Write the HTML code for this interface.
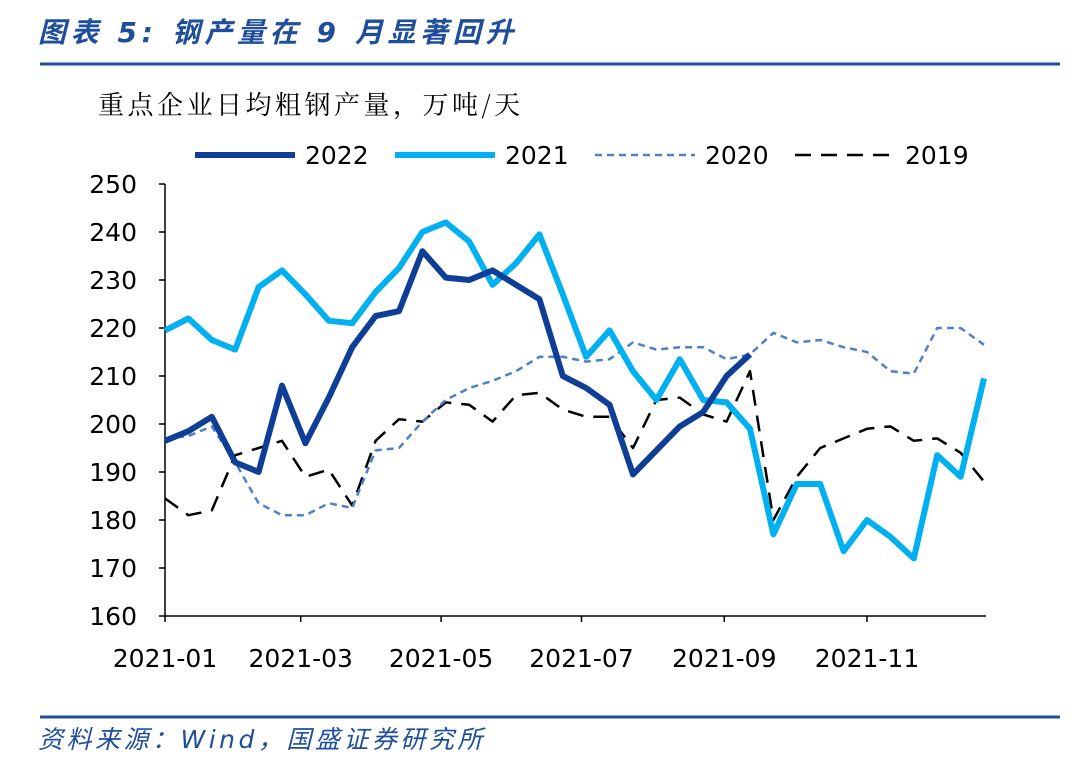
<!DOCTYPE html>
<html><head><meta charset="utf-8">
<style>
body{margin:0;width:1080px;height:769px;background:#fff;overflow:hidden;font-family:"DejaVu Sans","Noto Sans CJK SC",sans-serif;}
</style></head>
<body>
<svg width="1080" height="769" xmlns="http://www.w3.org/2000/svg">
<text x="38" y="42" font-size="28" font-weight="bold" font-style="italic" letter-spacing="4.6" fill="#1f4e9c" font-family="DejaVu Sans,Noto Sans CJK SC,sans-serif">图表 5:  钢产量在 9 月显著回升</text>
<line x1="40" y1="64" x2="1060" y2="64" stroke="#1f4e9c" stroke-width="3"/>
<text x="98" y="114" font-size="26" letter-spacing="3.5" fill="#000" font-family="Noto Serif CJK SC,serif">重点企业日均粗钢产量，万吨/天</text>
<g id="legend"></g>
<g id="axes"></g>
<g id="series"></g>
<line x1="40" y1="717" x2="1060" y2="717" stroke="#1f4e9c" stroke-width="3"/>
<text x="38" y="748" font-size="25" font-style="italic" letter-spacing="3.5" fill="#1f4e9c" font-family="DejaVu Sans,Noto Sans CJK SC,sans-serif">资料来源：Wind，国盛证券研究所</text>
</svg>
<script>
const yTicks=[160,170,180,190,200,210,220,230,240,250];
const xTickIdx=[0,5.8,11.8,17.8,23.9,30];
const xTickLabels=["2021-01","2021-03","2021-05","2021-07","2021-09","2021-11"];
const s2022=[196.5,198.5,201.5,192,190,208,196,205.5,216,222.5,223.5,236,230.5,230,232,229,226,210,207.5,204,189.5,194.5,199.5,202.5,210,214.5];
const s2021=[219.5,222,217.5,215.5,228.5,232,227,221.5,221,227.5,232.5,240,242,238,229,233.5,239.5,227,214,219.5,211,205,213.5,205,204.5,199,177,187.5,187.5,173.5,180,176.5,172,193.5,189,209.5];
const s2020=[197,197.5,199.5,192,183.5,181,181,183.5,182.5,194.5,195,200.5,205,207.5,209,211,214,214,213,213.5,217,215.5,216,216,213.5,214.5,219,217,217.5,216,215,211,210.5,220,220,216.5];
const s2019=[184.5,181,182,193.5,195,196.5,189,190.5,183,196.5,201,200.5,204.5,204,200.5,206,206.5,203,201.5,201.5,195,205,205.5,202,200.5,211,180,189,195,197,199,199.5,196.5,197,194,188];
const NS="http://www.w3.org/2000/svg";
const x0=165,x1=984,n=36,yTop=184,yBot=616,yMin=160,yMax=250;
const X=i=>x0+i*(x1-x0)/(n-1);
const Y=v=>yBot-(v-yMin)/(yMax-yMin)*(yBot-yTop);
function mk(tag,attrs,parent){const e=document.createElementNS(NS,tag);for(const k in attrs)e.setAttribute(k,attrs[k]);parent.appendChild(e);return e;}
const axes=document.getElementById('axes');
let a=mk('line',{x1:x0,y1:yTop,x2:x0,y2:yBot,stroke:'#000','stroke-width':1.5},axes);


a=mk('line',{x1:x0,y1:yBot,x2:x1+2,y2:yBot,stroke:'#000','stroke-width':1.5},axes);


yTicks.forEach(v=>{
  const t=mk('line',{x1:x0-6,y1:Y(v),x2:x0,y2:Y(v),stroke:'#000','stroke-width':1.5},axes);
  
  
  const l=mk('text',{x:x0-28,y:Y(v)+9,'font-size':25,'text-anchor':'end',fill:'#000'},axes);
  l.textContent=v;
  
  
});
xTickIdx.forEach((i,k)=>{
  const t=mk('line',{x1:X(i),y1:yBot,x2:X(i),y2:yBot+6,stroke:'#000','stroke-width':1.5},axes);
  
  
  const l=mk('text',{x:X(i),y:yBot+51,'font-size':25,'text-anchor':'middle',fill:'#000'},axes);
  l.textContent=xTickLabels[k];
  
  
});
const defs=[
 {name:'2022',data:s2022,color:'#0f3e96',w:6,dash:''},
 {name:'2021',data:s2021,color:'#00b0f0',w:6,dash:''},
 {name:'2020',data:s2020,color:'#4f81c8',w:2.5,dash:'7,5'},
 {name:'2019',data:s2019,color:'#000',w:2.5,dash:'16,10'}
];
const series=document.getElementById('series');
[3,2,1,0].forEach(k=>{const d=defs[k];
  const p=mk('polyline',{points:d.data.map((v,i)=>X(i)+','+Y(v)).join(' '),fill:'none',stroke:d.color,'stroke-width':d.w,'stroke-dasharray':d.dash,'stroke-linejoin':'round'},series);
  
  
});
const legend=document.getElementById('legend');
const lx=[195,395,595,795];
defs.forEach((d,k)=>{
  const l=mk('line',{x1:lx[k],y1:155,x2:lx[k]+100,y2:155,stroke:d.color,'stroke-width':d.w,'stroke-dasharray':d.dash},legend);
  
  
  const t=mk('text',{x:lx[k]+110,y:164,'font-size':25,fill:'#000'},legend);
  t.textContent=d.name;
  
  
});
</script>
</body></html>
